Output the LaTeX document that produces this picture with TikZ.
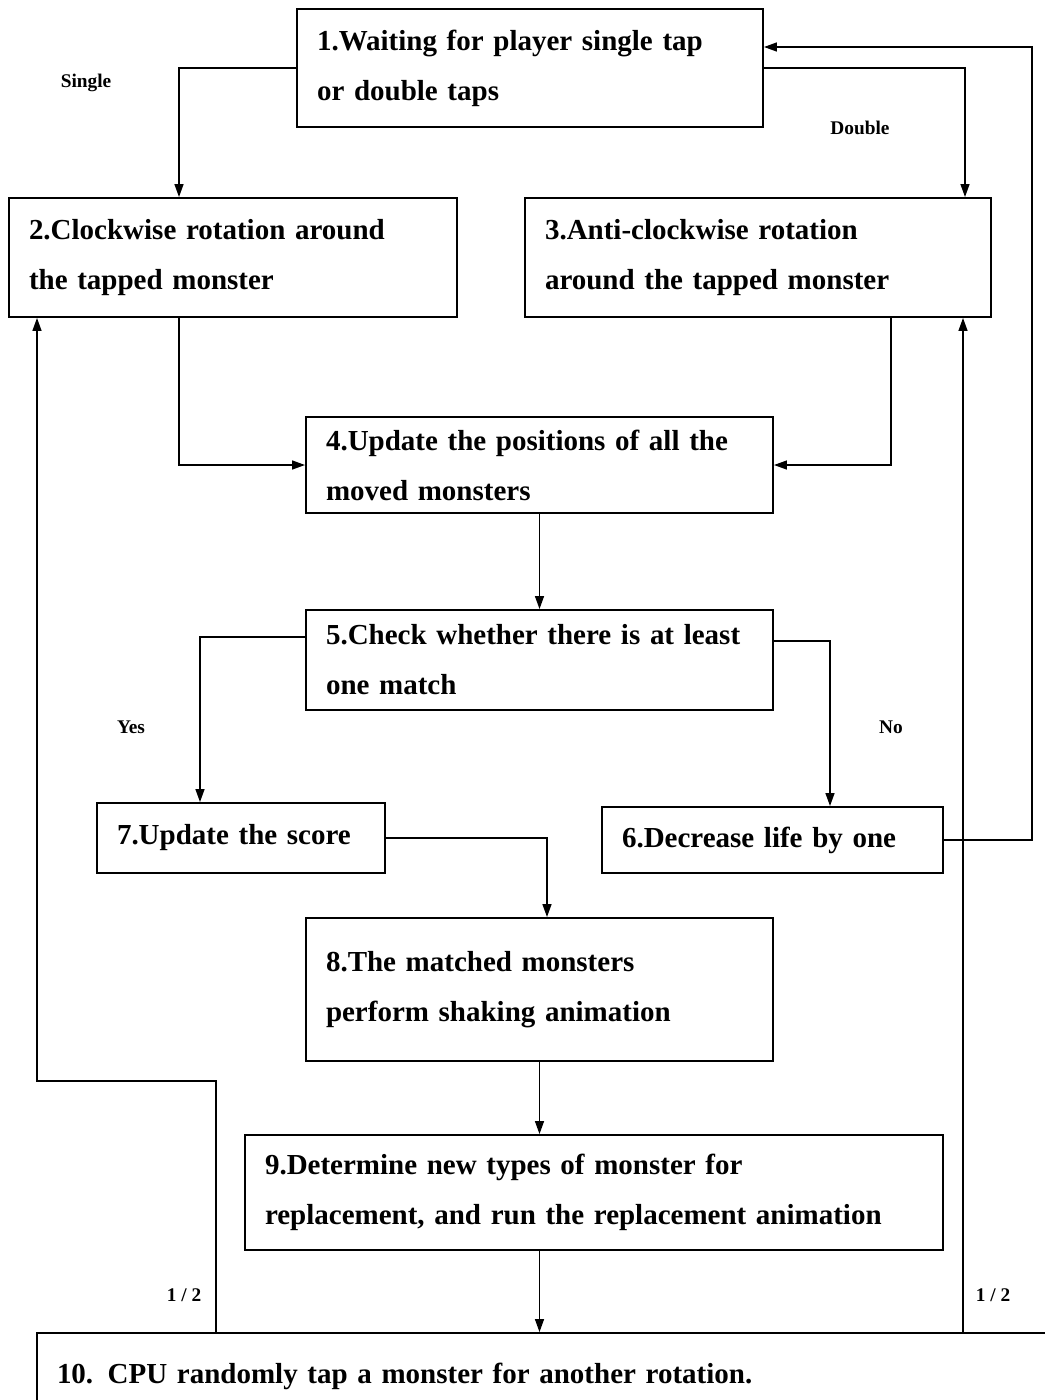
\documentclass[tikz,border=0pt]{standalone}
\usepackage{fontspec}
\setmainfont{Liberation Serif}
\usepackage{tikz}
\usetikzlibrary{arrows.meta}

\begin{document}
\begin{tikzpicture}[>={Triangle[length=2.6mm,width=1.8mm]},line cap=butt,
  box/.style={draw,line width=1.1pt,inner xsep=0.4cm,inner ysep=0pt,align=left,
    font=\fontsize{16.5}{28.5}\selectfont\bfseries},
  lbl/.style={font=\fontsize{11}{13}\selectfont\bfseries},
  flow/.style={->,line width=0.8pt}]
\useasboundingbox (0,0) rectangle (20.9,-28);
\node[box,minimum width=9.32cm,minimum height=2.36cm,text width=8.52cm] (b1) at (10.6,-1.36) {1.Waiting for player single tap\\or double taps};
\node[box,minimum width=8.96cm,minimum height=2.38cm,text width=8.16cm] (b2) at (4.66,-5.15) {2.Clockwise rotation around\\the tapped monster};
\node[box,minimum width=9.32cm,minimum height=2.38cm,text width=8.52cm] (b3) at (15.16,-5.15) {3.Anti-clockwise rotation\\around the tapped monster};
\node[box,minimum width=9.34cm,minimum height=1.92cm,text width=8.54cm] (b4) at (10.79,-9.3) {4.Update the positions of all the\\moved monsters};
\node[box,minimum width=9.34cm,minimum height=2cm,text width=8.54cm] (b5) at (10.79,-13.2) {5.Check whether there is at least\\one match};
\node[box,minimum width=5.76cm,minimum height=1.4cm,text width=4.96cm] (b7) at (4.82,-16.76) {7.Update the score};
\node[box,minimum width=6.82cm,minimum height=1.32cm,text width=6.02cm] (b6) at (15.45,-16.8) {6.Decrease life by one};
\node[box,minimum width=9.34cm,minimum height=2.86cm,text width=8.54cm] (b8) at (10.79,-19.79) {8.The matched monsters\\perform shaking animation};
\node[box,minimum width=13.96cm,minimum height=2.3cm,text width=13.16cm] (b9) at (11.88,-23.85) {9.Determine new types of monster for\\replacement, and run the replacement animation};
\node[box,minimum width=20.76cm,minimum height=1.74cm,text width=19.96cm] (b10) at (11.12,-27.53) {10. CPU randomly tap a monster for another rotation.};

\coordinate (rr) at (20.64,0);
\coordinate (ll) at (0.74,-21.62);
\coordinate (rb) at (19.26,0);

\draw[flow] (b1.west) -| ([xshift=-1.08cm]b2.north);
\draw[flow] (b1.east) -| ([xshift=4.14cm]b3.north);
\draw[flow] (b6.east) -- (b6.east -| rr) |- ([yshift=0.42cm]b1.east);
\draw[flow] ([xshift=-1.08cm]b2.south) |- (b4.west);
\draw[flow] ([xshift=2.66cm]b3.south) |- (b4.east);
\draw[flow] (b4.south) -- (b5.north);
\draw[flow] ([yshift=0.46cm]b5.west) -| ([xshift=-0.82cm]b7.north);
\draw[flow] ([yshift=0.38cm]b5.east) -| ([xshift=1.15cm]b6.north);
\draw[flow] (b7.east) -| ([xshift=0.15cm]b8.north);
\draw[flow] (b8.south) -- (b8.south |- b9.north);
\draw[flow] (b8.south |- b9.south) -- (b8.south |- b10.north);
\draw[flow] ([xshift=-6.8cm]b10.north) |- (ll) -- (ll |- b2.south);
\draw[flow] (b10.north -| rb) -- (b3.south -| rb);

\node[lbl] (single) at (1.72,-1.66) {Single};
\node[lbl] (double) at (17.2,-2.56) {Double};
\node[lbl] (yes) at (2.62,-14.54) {Yes};
\node[lbl] (no) at (17.82,-14.54) {No};
\node[lbl] (halfl) at (3.68,-25.9) {1 / 2};
\node[lbl] (halfr) at (19.86,-25.9) {1 / 2};
\end{tikzpicture}
\end{document}
